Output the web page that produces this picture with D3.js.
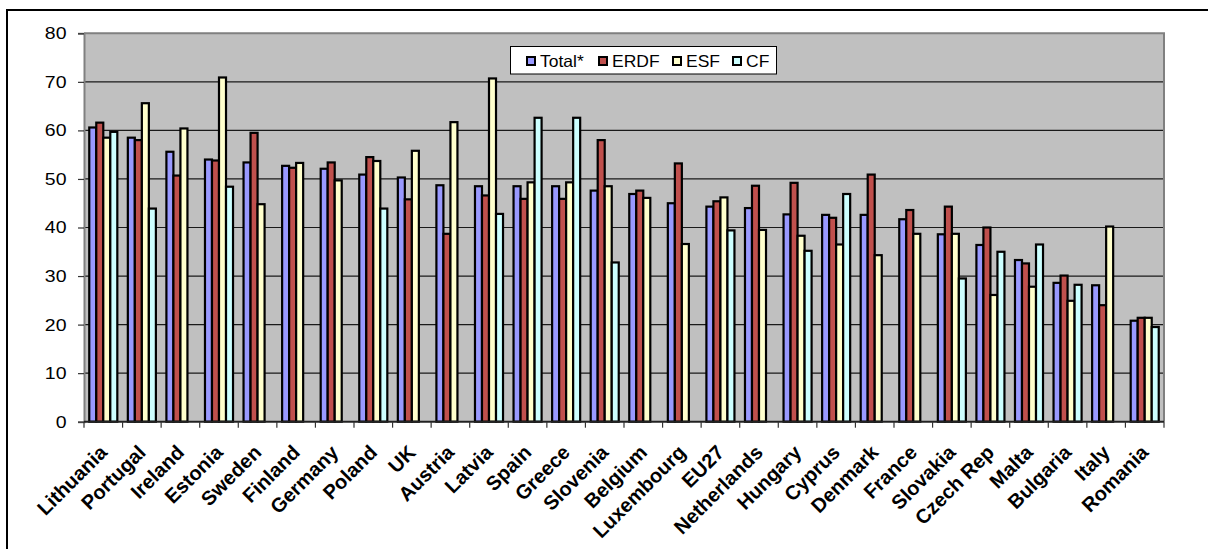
<!DOCTYPE html>
<html>
<head>
<meta charset="utf-8">
<script src="https://cdn.jsdelivr.net/npm/d3@7"></script>
<style>
  html, body { margin: 0; padding: 0; background: #fff; }
  svg { display: block; }
  text { font-family: "Liberation Sans", Arial, sans-serif; }
</style>
</head>
<body>
<svg id="chart" width="1208" height="549"></svg>
<script>
// Absorption rates by country and fund (%)
const categories = ["Lithuania", "Portugal", "Ireland", "Estonia", "Sweden", "Finland", "Germany",
  "Poland", "UK", "Austria", "Latvia", "Spain", "Greece", "Slovenia", "Belgium", "Luxembourg",
  "EU27", "Netherlands", "Hungary", "Cyprus", "Denmark", "France", "Slovakia", "Czech Rep",
  "Malta", "Bulgaria", "Italy", "Romania"];

const total = [60.6, 58.5, 55.6, 54.0, 53.4, 52.7, 52.1, 50.9, 50.3, 48.7, 48.5, 48.5, 48.5, 47.6,
  46.9, 45.0, 44.3, 44.0, 42.7, 42.6, 42.6, 41.7, 38.6, 36.4, 33.3, 28.6, 28.1, 20.8];
const erdf = [61.6, 58.0, 50.7, 53.8, 59.5, 52.3, 53.4, 54.5, 45.8, 38.7, 46.6, 45.9, 45.9, 58.0,
  47.6, 53.2, 45.4, 48.6, 49.2, 42.0, 50.9, 43.6, 44.3, 40.0, 32.6, 30.1, 24.0, 21.4];
const esf = [58.5, 65.6, 60.4, 70.9, 44.8, 53.3, 49.7, 53.7, 55.8, 61.7, 70.7, 49.3, 49.3, 48.5,
  46.1, 36.6, 46.2, 39.5, 38.3, 36.5, 34.3, 38.7, 38.7, 26.1, 27.8, 24.9, 40.2, 21.4];
const cf = [59.7, 43.9, null, 48.4, null, null, null, 43.9, null, null, 42.8, 62.6, 62.6, 32.8,
  null, null, 39.4, null, 35.2, 46.9, null, null, 29.5, 35.0, 36.5, 28.2, null, 19.5];

const seriesNames = ["Total*", "ERDF", "ESF", "CF"];
const seriesValues = [total, erdf, esf, cf];
const seriesColors = ["#9999FF", "#C0504D", "#FFFFCC", "#CCFFFF"];
const yTicks = [0, 10, 20, 30, 40, 50, 60, 70, 80];

const svg = d3.select("#chart");
const plot = { left: 84, right: 1164, top: 33.3, bottom: 421.7 };

// Outer chart frame
svg.append("rect")
  .attr("x", 7).attr("y", 10).attr("width", 1240).attr("height", 580)
  .attr("fill", "#fff").attr("stroke", "#000").attr("stroke-width", 2);

const x0 = d3.scaleBand().domain(categories).range([plot.left, plot.right]).padding(0);
const x1 = d3.scaleBand().domain(seriesNames).range([0, x0.bandwidth()])
  .paddingInner(0).paddingOuter(0.75);
const y = d3.scaleLinear().domain([0, 80]).range([plot.bottom, plot.top]);

// Plot area background
svg.append("rect")
  .attr("x", plot.left).attr("y", plot.top)
  .attr("width", plot.right - plot.left).attr("height", plot.bottom - plot.top)
  .attr("fill", "#C0C0C0");

// Horizontal gridlines
svg.append("g").selectAll("line")
  .data(yTicks.filter(d => d > 0 && d < 80))
  .join("line")
  .attr("x1", plot.left).attr("x2", plot.right)
  .attr("y1", d => y(d)).attr("y2", d => y(d))
  .attr("stroke", "#1a1a1a").attr("stroke-width", 1.2);

// Plot area border (top and right)
svg.append("path")
  .attr("d", `M${plot.left},${plot.top}H${plot.right}V${plot.bottom}`)
  .attr("fill", "none").attr("stroke", "#808080").attr("stroke-width", 2);

// Bars
const barData = [];
categories.forEach((c, i) => {
  seriesNames.forEach((s, j) => {
    const v = seriesValues[j][i];
    if (v != null) barData.push({ c, s, v, color: seriesColors[j] });
  });
});
svg.append("g").selectAll("rect")
  .data(barData)
  .join("rect")
  .attr("x", d => x0(d.c) + x1(d.s))
  .attr("y", d => y(d.v))
  .attr("width", x1.bandwidth())
  .attr("height", d => y(0) - y(d.v))
  .attr("fill", d => d.color)
  .attr("stroke", "#000")
  .attr("stroke-width", 2.2);

// Y axis line and ticks
const yAxis = svg.append("g")
  .attr("transform", `translate(${plot.left},0)`)
  .call(d3.axisLeft(y).tickValues(yTicks).tickSize(6).tickFormat(""));
yAxis.select(".domain").attr("stroke", "#808080").attr("stroke-width", 2);
yAxis.selectAll(".tick line").attr("stroke", "#333").attr("stroke-width", 1.2);

// Y tick labels (slightly wide face)
svg.append("g").selectAll("text")
  .data(yTicks)
  .join("text")
  .attr("transform", d => `translate(66.5,${y(d)}) scale(1.18,1)`)
  .attr("dy", "0.36em")
  .attr("text-anchor", "end")
  .attr("font-size", 16.5)
  .attr("fill", "#000")
  .text(d => d);

// X axis line and category boundary ticks
svg.append("line")
  .attr("x1", plot.left).attr("x2", plot.right)
  .attr("y1", plot.bottom).attr("y2", plot.bottom)
  .attr("stroke", "#222").attr("stroke-width", 2);
const boundaries = categories.map(c => x0(c)).concat([plot.right]);
svg.append("g").selectAll("line")
  .data(boundaries)
  .join("line")
  .attr("x1", d => d).attr("x2", d => d)
  .attr("y1", plot.bottom).attr("y2", plot.bottom + 6)
  .attr("stroke", "#333").attr("stroke-width", 1.2);

// Category labels, rotated
svg.append("g").selectAll("text")
  .data(categories)
  .join("text")
  .attr("transform", d => `translate(${x0(d) + x0.bandwidth() / 2 + 5},${plot.bottom + 32}) rotate(-45)`)
  .attr("text-anchor", "end")
  .attr("font-size", 20)
  .attr("font-weight", "bold")
  .attr("fill", "#000")
  .text(d => d);

// Legend
const legend = svg.append("g");
legend.append("rect")
  .attr("x", 510.5).attr("y", 46.5).attr("width", 266).attr("height", 27.5)
  .attr("fill", "#fff").attr("stroke", "#000").attr("stroke-width", 1);
const legendX = [526, 598, 672, 732];
const items = legend.selectAll("g.item")
  .data(seriesNames)
  .join("g")
  .attr("class", "item")
  .attr("transform", (d, i) => `translate(${legendX[i]},56)`);
items.append("rect")
  .attr("x", 1).attr("y", 1).attr("width", 8).attr("height", 8)
  .attr("fill", (d, i) => seriesColors[i])
  .attr("stroke", "#000").attr("stroke-width", 2);
items.append("text")
  .attr("transform", "translate(14,11) scale(1.06,1)")
  .attr("font-size", 16.5)
  .attr("fill", "#000")
  .text(d => d);
</script>
</body>
</html>
